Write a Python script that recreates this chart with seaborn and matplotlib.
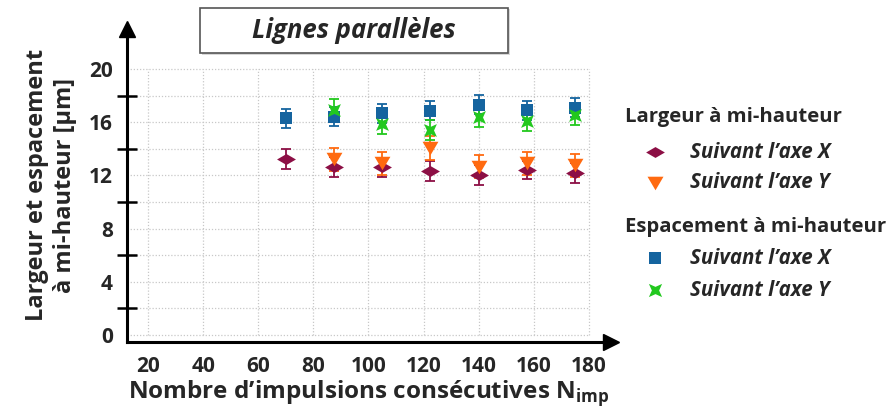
import numpy as np
import pandas as pd
import matplotlib
matplotlib.use("Agg")
import matplotlib.pyplot as plt
from matplotlib.path import Path
from matplotlib.patches import Rectangle
from matplotlib.lines import Line2D
import seaborn as sns

# ---------------- data ----------------
x_all = [70, 87.5, 105, 122.5, 140, 157.5, 175]
x_no70 = [87.5, 105, 122.5, 140, 157.5, 175]

largeur_x = [13.2, 12.6, 12.6, 12.35, 12.0, 12.4, 12.15]
largeur_x_err = [0.75, 0.75, 0.7, 0.75, 0.75, 0.7, 0.75]

largeur_y = [13.2, 12.9, 14.05, 12.65, 12.9, 12.75]
largeur_y_err = [0.85, 0.85, 0.9, 0.85, 0.85, 0.85]

espacement_x = [16.3, 16.4, 16.65, 16.85, 17.3, 16.9, 17.1]
espacement_x_err = [0.72, 0.72, 0.7, 0.72, 0.72, 0.72, 0.72]

espacement_y = [16.9, 15.85, 15.4, 16.35, 16.1, 16.55]
espacement_y_err = [0.85, 0.72, 0.75, 0.75, 0.75, 0.75]

x_ticks = [20, 40, 60, 80, 100, 120, 140, 160, 180]
y_ticks = [0, 4, 8, 12, 16, 20]

title = "Lignes parallèles"
xlabel = "Nombre d’impulsions consécutives N$_{\\mathbf{imp}}$"
ylabel = "Largeur et espacement\nà mi-hauteur [µm]"
group1 = "Largeur à mi-hauteur"
group2 = "Espacement à mi-hauteur"
lab_x = "Suivant l’axe X"
lab_y = "Suivant l’axe Y"

# ---------------- style ----------------
FONT = "Open Sans"
sns.set_theme(style="white")
plt.rcParams["font.family"] = [FONT, "DejaVu Sans"]
plt.rcParams["mathtext.fontset"] = "custom"
plt.rcParams["mathtext.bf"] = FONT + ":bold"
plt.rcParams["mathtext.rm"] = FONT + ":bold"

C_DIAM = "#8c0f45"
C_TRI = "#ff6a10"
C_SQ = "#15649f"
C_GR = "#22c81e"

diamond = Path([(-1, 0), (0, 0.58), (1, 0), (0, -0.58), (-1, 0)],
               [Path.MOVETO, Path.LINETO, Path.LINETO, Path.LINETO, Path.CLOSEPOLY])
tri_down = Path([(-1, 0.85), (1, 0.85), (0, -0.85), (-1, 0.85)],
                [Path.MOVETO, Path.LINETO, Path.LINETO, Path.CLOSEPOLY])
k = 0.45
star4 = Path([(-1, 1), (0, 1 - k), (1, 1), (1 - k, 0), (1, -1), (0, -1 + k),
              (-1, -1), (-1 + k, 0), (-1, 1)],
             [Path.MOVETO] + [Path.LINETO] * 7 + [Path.CLOSEPOLY])

fig = plt.figure(figsize=(8.92, 4.17), dpi=100)
ax = fig.add_axes([127 / 892, 1 - 341.7 / 417, (611 - 127) / 892, (341.7 - 29) / 417])

# grid (dotted, within 0..20 / ..180)
ax.hlines(np.arange(0, 21, 2), 12.4, 180, colors="#c8c8c8", linestyles=(0, (1, 1.5)), lw=0.9, zorder=0)
ax.vlines(x_ticks, 0, 20, colors="#c8c8c8", linestyles=(0, (1, 1.5)), lw=0.9, zorder=0)

series = [
    (x_all, largeur_x, largeur_x_err, C_DIAM, diamond, 185),
    (x_no70, largeur_y, largeur_y_err, C_TRI, tri_down, 130),
    (x_all, espacement_x, espacement_x_err, C_SQ, "s", 64),
    (x_no70, espacement_y, espacement_y_err, C_GR, star4, 85),
]
for xs, ys, es, col, mk, s in series:
    ax.errorbar(xs, ys, yerr=es, fmt="none", ecolor=col, elinewidth=1.3,
                capsize=3.5, capthick=1.3, zorder=2)
    df = pd.DataFrame({"x": xs, "y": ys})
    sns.scatterplot(data=df, x="x", y="y", ax=ax, marker=mk, color=col, s=s,
                    linewidth=0, zorder=3, legend=False)

ax.set_xlim(12.4, 188)
ax.set_ylim(-0.5, 23)
ax.set_xticks(x_ticks)
ax.set_yticks(y_ticks)
ax.set_yticks([2, 6, 10, 14, 18], minor=True)
ax.set_xlabel(xlabel, fontsize=17.5, fontweight="bold", labelpad=1)
ax.set_ylabel(ylabel, fontsize=17, fontweight="bold", labelpad=9, linespacing=1.2)

for sp in ["top", "right"]:
    ax.spines[sp].set_visible(False)
for sp in ["left", "bottom"]:
    ax.spines[sp].set_linewidth(2.2)
    ax.spines[sp].set_color("black")

ax.tick_params(axis="both", which="both", direction="inout", width=1.8, color="black")
ax.tick_params(axis="x", which="major", length=12, labelsize=15, pad=4)
ax.tick_params(axis="y", which="major", length=14, labelsize=15, pad=3)
ax.tick_params(axis="y", which="minor", length=14, left=True)
for lab in ax.get_xticklabels() + ax.get_yticklabels():
    lab.set_fontweight("bold")

# arrow heads
ax.plot([0], [1], marker="^", color="black", markersize=11, transform=ax.transAxes, clip_on=False)
ax.plot([1], [0], marker=">", color="black", markersize=11, transform=ax.transAxes, clip_on=False)

# title box
W, H = 892, 417
fig.add_artist(Rectangle((202 / W, 1 - 55 / H), 308 / W, 46 / H, transform=fig.transFigure,
                         facecolor="#d8d8d8", edgecolor="none", zorder=1))
fig.add_artist(Rectangle((200 / W, 1 - 53 / H), 308 / W, 45 / H, transform=fig.transFigure,
                         facecolor="white", edgecolor="#555555", lw=1.2, zorder=2))
fig.text(354 / W, 1 - 31 / H, title, ha="center", va="center", fontsize=18.5,
         fontweight="bold", style="italic", zorder=3)

# legend (manual)
def legend_item(y_px, label, marker, color, ms):
    fig.add_artist(Line2D([655 / W], [1 - y_px / H], transform=fig.transFigure, marker=marker,
                          color=color, markersize=ms, markeredgewidth=0, linestyle="none"))
    fig.text(690 / W, 1 - y_px / H, label, ha="left", va="center", fontsize=14.8,
             fontweight="bold", style="italic")

fig.text(625 / W, 1 - 117 / H, group1, ha="left", va="center", fontsize=14.6, fontweight="bold")
legend_item(152, lab_x, diamond, C_DIAM, 13.5)
legend_item(183, lab_y, tri_down, C_TRI, 11.5)
fig.text(625 / W, 1 - 227 / H, group2, ha="left", va="center", fontsize=14.6, fontweight="bold")
legend_item(258, lab_x, "s", C_SQ, 8.5)
legend_item(290, lab_y, star4, C_GR, 9.5)

fig.savefig("out.png", dpi=100)
